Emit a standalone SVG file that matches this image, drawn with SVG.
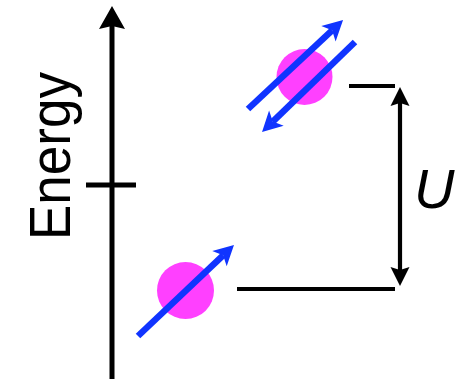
<svg xmlns="http://www.w3.org/2000/svg" width="465" height="379" viewBox="0 0 465 379">
<style>
.ax{stroke:#000;stroke-width:5;fill:none}
.lvl{stroke:#000;stroke-width:4;fill:none}
.spin{stroke:#1034ff;stroke-width:6.5;fill:none}
.el{fill:#ff40ff}
.lbl{font-family:"Liberation Sans",Arial,sans-serif;fill:#000}
</style>
<defs>
<marker id="bh" markerUnits="userSpaceOnUse" orient="auto" markerWidth="40" markerHeight="40" refX="5" refY="0" overflow="visible">
<path d="M20,0 L0,-10.5 L5,0 L0,10.5 Z" fill="#1034ff"/>
</marker>
<marker id="kh" markerUnits="userSpaceOnUse" orient="auto" markerWidth="40" markerHeight="40" refX="3" refY="0" overflow="visible">
<path d="M23,0 L0,-13 L3,0 L0,13 Z" fill="#000"/>
</marker>
<marker id="uh" markerUnits="userSpaceOnUse" orient="auto-start-reverse" markerWidth="40" markerHeight="40" refX="3" refY="0" overflow="visible">
<path d="M19,0 L0,-9.5 L3,0 L0,9.5 Z" fill="#000"/>
</marker>
</defs>
<g id="axis">
<line class="ax" x1="112" y1="379" x2="112" y2="26" marker-end="url(#kh)"/>
<line class="ax" x1="86" y1="185" x2="136" y2="185"/>
<text class="lbl" font-size="58" text-anchor="middle" textLength="168" lengthAdjust="spacingAndGlyphs" transform="translate(70,156) rotate(-90)">Energy</text>
</g>
<g id="upper-state">
<circle class="el" cx="304.5" cy="77" r="28"/>
<line class="spin" x1="248" y1="109" x2="332.1" y2="30.3" marker-end="url(#bh)"/>
<line class="spin" x1="355" y1="42" x2="272.8" y2="121.6" marker-end="url(#bh)"/>
<line class="lvl" x1="349" y1="86" x2="395" y2="86"/>
</g>
<g id="lower-state">
<circle class="el" cx="185.5" cy="290.5" r="28.5"/>
<line class="spin" x1="138" y1="336" x2="223.1" y2="255.3" marker-end="url(#bh)"/>
<line class="lvl" x1="237" y1="289" x2="395" y2="289"/>
</g>
<g id="connectors">
<line class="ax" style="stroke-width:4.2" x1="400" y1="103" x2="400" y2="270" marker-start="url(#uh)" marker-end="url(#uh)"/>
</g>
<g id="U-label">
<text class="lbl" font-size="56" font-style="italic" x="414" y="208">U</text>
</g>
</svg>
